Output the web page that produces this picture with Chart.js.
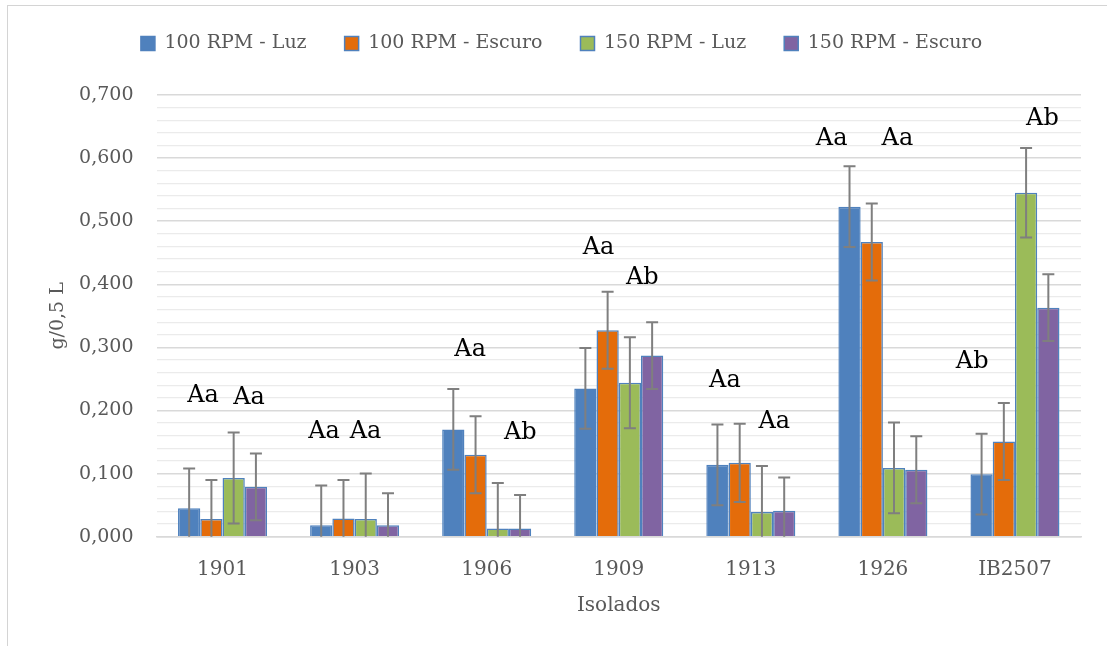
<!DOCTYPE html>
<html lang="pt">
<head>
    <meta charset="UTF-8">
    <title>g/0,5 L por isolado</title>
    <style>
        body { margin: 0; background: #fff; }
        #wrap { position: relative; width: 1107px; height: 646px; overflow: hidden; }
        #frame { position: absolute; left: 7px; top: 5px; width: 1200px; height: 700px;
                 border-left: 1px solid #d4d4d4; border-top: 1px solid #d4d4d4; pointer-events: none; }
    </style>
    <script src="https://cdn.jsdelivr.net/npm/chart.js@4.4.1/dist/chart.umd.min.js"></script>
</head>
<body>
<div id="wrap">
    <canvas id="chart"></canvas>
    <div id="frame"></div>
</div>
<script>
    // dados
    const categories = ['1901', '1903', '1906', '1909', '1913', '1926', 'IB2507'];
    const seriesNames = ['100 RPM - Luz', '100 RPM - Escuro', '150 RPM - Luz', '150 RPM - Escuro'];

    const luz100    = [0.045, 0.018, 0.170, 0.235, 0.114, 0.523, 0.099];
    const escuro100 = [0.028, 0.029, 0.130, 0.327, 0.117, 0.467, 0.151];
    const luz150    = [0.093, 0.028, 0.013, 0.244, 0.039, 0.109, 0.545];
    const escuro150 = [0.079, 0.018, 0.013, 0.287, 0.041, 0.106, 0.363];

    // barras de erro (+/-)
    const errLuz100    = [0.063, 0.063, 0.064, 0.064, 0.064, 0.064, 0.064];
    const errEscuro100 = [0.062, 0.061, 0.061, 0.061, 0.062, 0.061, 0.061];
    const errLuz150    = [0.072, 0.072, 0.072, 0.072, 0.073, 0.072, 0.071];
    const errEscuro150 = [0.053, 0.051, 0.053, 0.053, 0.053, 0.053, 0.053];

    const yTickLabels = ['0,000', '0,100', '0,200', '0,300', '0,400', '0,500', '0,600', '0,700'];

    // letras de significancia: texto, isolado, deslocamento (fracao da categoria), valor
    const letterText  = ['Aa', 'Aa', 'Aa', 'Aa', 'Aa', 'Ab', 'Aa', 'Ab', 'Aa', 'Aa', 'Aa', 'Aa', 'Ab', 'Ab'];
    const letterCat   = [0, 0, 1, 1, 2, 2, 3, 3, 4, 4, 5, 5, 6, 6];
    const letterShift = [-0.148, 0.201, -0.231, 0.083, -0.125, 0.254, -0.153, 0.178, -0.196, 0.178, -0.388, 0.110, -0.324, 0.208];
    const letterValue = [0.213, 0.211, 0.157, 0.157, 0.286, 0.155, 0.448, 0.400, 0.238, 0.173, 0.621, 0.621, 0.267, 0.653];

    const fills = ['#4f81bd', '#e46c0a', '#9bbb59', '#8064a2'];
    const edge = '#4f81bd';
    const grey = '#595959';
    const serif = "'DejaVu Serif', serif";

    const values = [luz100, escuro100, luz150, escuro150];
    const errors = [errLuz100, errEscuro100, errLuz150, errEscuro150];

    const isMajor = v => Math.abs(v * 10 - Math.round(v * 10)) < 1e-6;

    // barras de erro desenhadas com as escalas do grafico
    const errorBars = {
        id: 'errorBars',
        afterDatasetsDraw(chart) {
            const { ctx, chartArea, scales: { y } } = chart;
            ctx.save();
            ctx.beginPath();
            ctx.rect(chartArea.left, chartArea.top, chartArea.width, chartArea.height);
            ctx.clip();
            ctx.strokeStyle = '#7f7f7f';
            ctx.lineWidth = 2;
            chart.data.datasets.forEach((ds, i) => {
                const meta = chart.getDatasetMeta(i);
                meta.data.forEach((bar, j) => {
                    const v = ds.data[j], e = errors[i][j];
                    const top = y.getPixelForValue(v + e);
                    const bot = y.getPixelForValue(v - e);
                    const x = bar.x, w = 6;
                    ctx.beginPath();
                    ctx.moveTo(x, top); ctx.lineTo(x, bot);
                    ctx.moveTo(x - w, top); ctx.lineTo(x + w, top);
                    ctx.moveTo(x - w, bot); ctx.lineTo(x + w, bot);
                    ctx.stroke();
                });
            });
            ctx.restore();
        }
    };

    const letters = {
        id: 'letters',
        afterDraw(chart) {
            const { ctx, scales: { x, y } } = chart;
            const step = x.getPixelForValue(1) - x.getPixelForValue(0);
            ctx.save();
            ctx.font = '24px ' + serif;
            ctx.fillStyle = '#000';
            ctx.textAlign = 'center';
            ctx.textBaseline = 'alphabetic';
            letterText.forEach((t, k) => {
                const px = x.getPixelForValue(letterCat[k]) + letterShift[k] * step;
                ctx.fillText(t, px, y.getPixelForValue(letterValue[k]));
            });
            ctx.restore();
        }
    };

    const legendHeight = {
        id: 'legendHeight',
        beforeInit(chart) {
            const fit = chart.legend.fit;
            chart.legend.fit = function () {
                fit.call(this);
                this.height = 99;
            };
        }
    };

    new Chart(document.getElementById('chart'), {
        type: 'bar',
        data: {
            labels: categories,
            datasets: seriesNames.map((name, i) => ({
                label: name,
                data: values[i],
                backgroundColor: fills[i],
                borderColor: edge,
                borderWidth: 1.5,
                categoryPercentage: 0.674,
                barPercentage: 1
            }))
        },
        options: {
            responsive: true,
            maintainAspectRatio: false,
            animation: false,
            layout: { padding: { left: 42, right: 26, top: -4, bottom: 0 } },
            plugins: {
                tooltip: { enabled: false },
                legend: {
                    position: 'top',
                    labels: {
                        boxWidth: 14, boxHeight: 14, padding: 38,
                        color: grey, font: { family: serif, size: 19 }
                    }
                }
            },
            scales: {
                x: {
                    afterFit(s) { s.height = 109.3; },
                    grid: { display: false },
                    border: { display: true, color: '#d9d9d9', width: 1.5 },
                    ticks: { color: grey, font: { family: serif, size: 20 }, padding: 13 },
                    title: {
                        display: true, text: 'Isolados', color: grey,
                        font: { family: serif, size: 20 }, padding: { top: 0, bottom: 28 }
                    }
                },
                y: {
                    min: 0, max: 0.7,
                    afterFit(s) { s.width = 114.5; },
                    border: { display: false },
                    grid: {
                        drawTicks: false,
                        color: c => isMajor(c.tick.value) ? '#d9d9d9' : '#ebebeb',
                        lineWidth: c => isMajor(c.tick.value) ? 1.5 : 1.3
                    },
                    ticks: {
                        stepSize: 0.02,
                        autoSkip: false,
                        padding: 23,
                        color: grey,
                        font: { family: serif, size: 19 },
                        callback: v => isMajor(v) ? yTickLabels[Math.round(v * 10)] : ''
                    },
                    title: {
                        display: true, text: 'g/0,5 L', color: grey,
                        font: { family: serif, size: 19 }, padding: { top: 5, bottom: 0 }
                    }
                }
            }
        },
        plugins: [legendHeight, errorBars, letters]
    });
</script>
</body>
</html>
